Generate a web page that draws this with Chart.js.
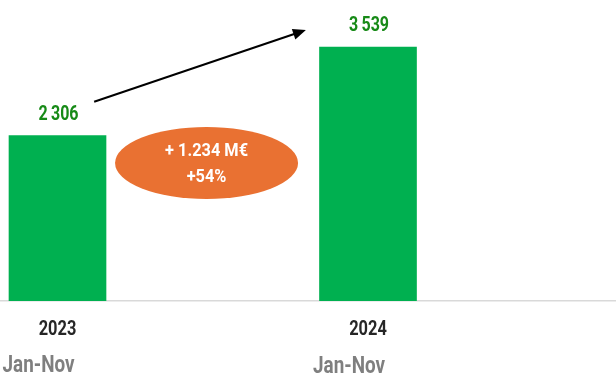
<!DOCTYPE html>
<html>
<head>
<meta charset="utf-8">
<script src="https://cdn.jsdelivr.net/npm/chart.js@4"></script>
<style>
  html, body { margin: 0; padding: 0; background: #fff; }
  #wrap { width: 616px; height: 374px; }
</style>
</head>
<body>
<div id="wrap"><canvas id="chart_1"></canvas></div>
<script>
const years = ['2023', '2024'];
const periods = ['Jan-Nov', 'Jan-Nov'];
const sales = [2306, 3539];
const diffLabel = ['+ 1.234 M€', '+54%'];

const FONT = "Roboto, 'Liberation Sans', sans-serif";
const fmt = v => v.toLocaleString('en-US').replace(',', '\u2009');

// condensed look: squeeze the text horizontally
function narrowText(ctx, text, x, y, sx) {
    ctx.save();
    ctx.translate(x, y);
    ctx.scale(sx, 1);
    ctx.fillText(text, 0, 0);
    ctx.restore();
}

// value labels, axis labels and the growth annotation
const extras = {
    id: 'extras',
    afterDatasetsDraw(chart) {
        const ctx = chart.ctx;
        const x = chart.scales.x, y = chart.scales.y;
        const bars = chart.getDatasetMeta(0).data;
        ctx.save();
        ctx.textAlign = 'center';
        ctx.textBaseline = 'middle';

        /* ==== VALUE LABELS ==== */
        ctx.font = 'bold 20px ' + FONT;
        ctx.fillStyle = '#178a17';
        bars.forEach((b, i) => narrowText(ctx, fmt(sales[i]), b.x + 1, b.y - 21, 0.8));

        /* ==== CATEGORY LABELS ==== */
        ctx.fillStyle = '#262626';
        years.forEach((t, i) => narrowText(ctx, t, x.getPixelForValue(i), 330, 0.82));
        ctx.font = 'bold 23px ' + FONT;
        ctx.fillStyle = '#7f7f7f';
        periods.forEach((p, i) => narrowText(ctx, p, x.getPixelForValue(i) - 19, 366 + i, 0.82));

        /* ==== ARROW ==== */
        const x0 = x.getPixelForValue(0.118), y0 = y.getPixelForValue(2777);
        const x1 = x.getPixelForValue(0.800), y1 = y.getPixelForValue(3776);
        const ang = Math.atan2(y1 - y0, x1 - x0);
        const c = Math.cos(ang), s = Math.sin(ang);
        ctx.strokeStyle = '#000';
        ctx.fillStyle = '#000';
        ctx.lineWidth = 2;
        ctx.beginPath();
        ctx.moveTo(x0, y0);
        ctx.lineTo(x1 - 10 * c, y1 - 10 * s);
        ctx.stroke();
        ctx.beginPath();
        ctx.moveTo(x1, y1);
        ctx.lineTo(x1 - 13 * c + 5.5 * s, y1 - 13 * s - 5.5 * c);
        ctx.lineTo(x1 - 13 * c - 5.5 * s, y1 - 13 * s + 5.5 * c);
        ctx.closePath();
        ctx.fill();

        /* ==== GROWTH BUBBLE ==== */
        const cx = x.getPixelForValue(0.48), cy = y.getPixelForValue(1923);
        ctx.fillStyle = '#e97132';
        ctx.beginPath();
        ctx.ellipse(cx, cy, 91.5, 36, 0, 0, Math.PI * 2);
        ctx.fill();
        ctx.fillStyle = '#ffffff';
        ctx.font = 'bold 19px ' + FONT;
        narrowText(ctx, diffLabel[0], cx, cy - 12, 0.86);
        narrowText(ctx, diffLabel[1], cx, cy + 14, 0.86);

        ctx.restore();
    }
};

window.addEventListener('DOMContentLoaded', () => {
    new Chart(
        document.getElementById('chart_1'),
        {
            type: 'bar',
            data: {
                datasets: [
                    {
                        label: 'Sales',
                        data: sales.map((v, i) => ({ x: i, y: v })),
                        backgroundColor: '#00b050',
                        barThickness: 97,
                    }
                ]
            },
            options: {
                responsive: true,
                maintainAspectRatio: false,
                animation: false,
                layout: { padding: 0 },
                plugins: {
                    legend: { display: false },
                    tooltip: { enabled: false }
                },
                scales: {
                    x: {
                        type: 'linear',
                        offset: false,
                        min: -0.1852,
                        max: 1.7987,
                        afterBuildTicks: axis => { axis.ticks = years.map((_, i) => ({ value: i })); },
                        afterFit: axis => { axis.height = 73; },
                        grid: { display: false, drawTicks: false },
                        border: { display: true, color: '#d9d9d9', width: 1.5 },
                        ticks: { display: false }
                    },
                    y: {
                        display: false,
                        min: 0,
                        max: 4194
                    }
                }
            },
            plugins: [extras]
        }
    );
});
</script>
</body>
</html>
